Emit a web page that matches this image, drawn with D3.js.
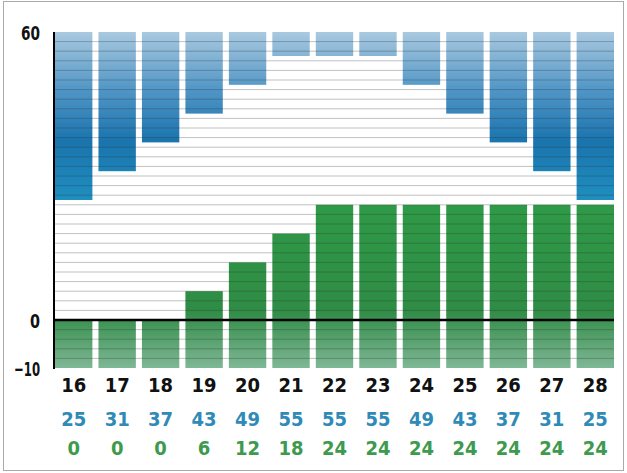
<!DOCTYPE html><html><head><meta charset="utf-8">
<script src="https://cdn.jsdelivr.net/npm/d3@7"></script>
<style>body{margin:0;background:#fff}text{font-family:"DejaVu Sans Condensed","DejaVu Sans";font-weight:bold}</style>
</head><body><svg id="c" width="627" height="473"></svg>
<script>
const categories=["16","17","18","19","20","21","22","23","24","25","26","27","28"];
const blueValues=[25,31,37,43,49,55,55,55,49,43,37,31,25];
const greenValues=[0,0,0,6,12,18,24,24,24,24,24,24,24];
const yTicks=[60,0,-10];
const svg=d3.select("#c");
svg.append("rect").attr("x",3.5).attr("y",1.5).attr("width",620).attr("height",469).attr("fill","none").attr("stroke","#aaa");
const y=d3.scaleLinear().domain([-10,60]).range([368,32]);
const x=d3.scaleBand().domain(categories).range([55,614]).paddingInner(0.14).paddingOuter(0.0);
const defs=svg.append("defs");
const bg=defs.append("linearGradient").attr("id","bg").attr("gradientUnits","userSpaceOnUse").attr("x1",0).attr("x2",0).attr("y1",y(60)).attr("y2",y(25));
[[0,"#a9c9e0"],[0.35,"#4f95c6"],[0.65,"#1a74ad"],[1,"#1f8fc0"]].forEach(s=>bg.append("stop").attr("offset",s[0]).attr("stop-color",s[1]));
const gg=defs.append("linearGradient").attr("id","gg").attr("gradientUnits","userSpaceOnUse").attr("x1",0).attr("x2",0).attr("y1",y(24)).attr("y2",y(-10));
[[0,"#2e9a47"],[0.65,"#2f8c45"],[1,"#7fb796"]].forEach(s=>gg.append("stop").attr("offset",s[0]).attr("stop-color",s[1]));
svg.selectAll(".b").data(categories).join("rect").attr("x",d=>x(d)).attr("width",x.bandwidth())
 .attr("y",y(60)).attr("height",(d,i)=>y(blueValues[i])-y(60)).attr("fill","url(#bg)");
svg.selectAll(".g").data(categories).join("rect").attr("x",d=>x(d)).attr("width",x.bandwidth())
 .attr("y",(d,i)=>y(greenValues[i])).attr("height",(d,i)=>y(-10)-y(greenValues[i])).attr("fill","url(#gg)");
const grid=d3.range(-8,60,2);
svg.selectAll(".gl").data(grid).join("line").attr("x1",55).attr("x2",614).attr("y1",d=>y(d)).attr("y2",d=>y(d))
 .attr("stroke","#333").attr("stroke-opacity",0.3).attr("stroke-width",1);
svg.append("line").attr("x1",54).attr("x2",54).attr("y1",32).attr("y2",369).attr("stroke","#000").attr("stroke-width",2);
svg.append("line").attr("x1",53).attr("x2",614).attr("y1",y(0)).attr("y2",y(0)).attr("stroke","#000").attr("stroke-width",2.5);
svg.selectAll(".yt").data(yTicks).join("text").attr("x",40).attr("y",d=>y(d)+8).attr("text-anchor","end").attr("font-size",20).attr("fill","#111")
 .attr("textLength",d=>d===-10?26:(d===0?10:19)).attr("lengthAdjust","spacingAndGlyphs").text(d=>d===-10?"\u221210":d);
const cx=d=>x(d)+x.bandwidth()/2;
svg.selectAll(".xl").data(categories).join("text").attr("x",cx).attr("y",392).attr("text-anchor","middle").attr("font-size",20).attr("fill","#111").text(d=>d);
svg.selectAll(".bl").data(categories).join("text").attr("x",cx).attr("y",426).attr("text-anchor","middle").attr("font-size",20).attr("fill","#2f8ab8").text((d,i)=>blueValues[i]);
svg.selectAll(".gl2").data(categories).join("text").attr("x",cx).attr("y",455).attr("text-anchor","middle").attr("font-size",20).attr("fill","#3d9a4e").text((d,i)=>greenValues[i]);
</script></body></html>
